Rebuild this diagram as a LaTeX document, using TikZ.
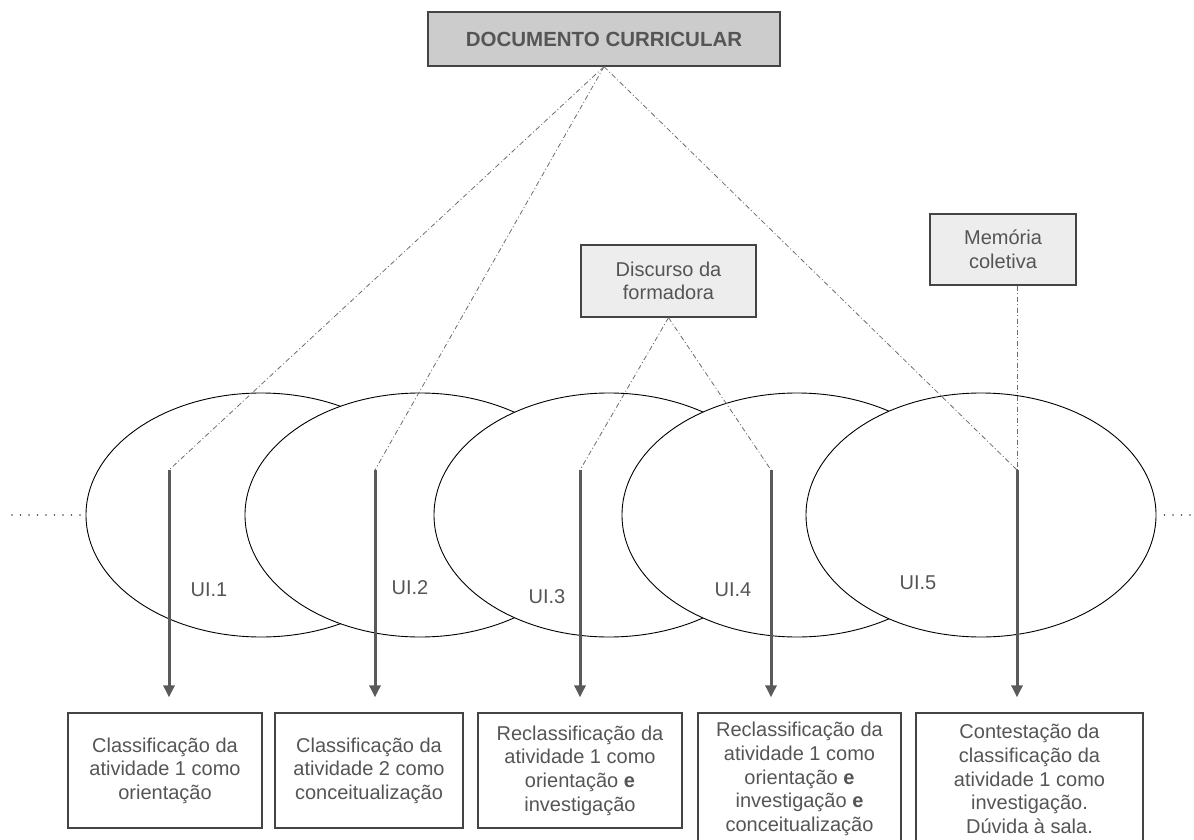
\documentclass[tikz,border=0pt]{standalone}
\usepackage{fontspec}
\setmainfont{Liberation Sans}
\usetikzlibrary{shapes.geometric,arrows.meta}
\definecolor{txt}{HTML}{555555}
\definecolor{boxline}{HTML}{444444}
\definecolor{dashc}{HTML}{6E6E6E}
\definecolor{arrc}{HTML}{5A5A5A}
\begin{document}
\begin{tikzpicture}[x=1pt,y=-1pt,
  every node/.style={font=\fontsize{20}{23.6}\selectfont, text=txt},
  uiell/.style={ellipse, draw=black, line width=0.9pt, fill=white, minimum width=350, minimum height=244, inner sep=0pt},
  outbox/.style={rectangle, draw=boxline, line width=1.3pt, fill=white, align=center, inner sep=0pt},
  topbox/.style={rectangle, draw=boxline, line width=1.3pt, align=center, inner sep=0pt},
  dashln/.style={draw=dashc, line width=0.8pt, dash pattern=on 5pt off 2.5pt on 1pt off 2.5pt},
  dotln/.style={draw=black!75, line width=1.6pt, line cap=round, dash pattern=on 0pt off 8.5pt},
  arrln/.style={draw=arrc, line width=3pt, -{Triangle[length=12pt,width=11pt]}, shorten >=15pt},
  uilab/.style={text=txt}
]
\useasboundingbox (0,0) rectangle (1194,840);
% ellipses
\node[uiell] (e1) at (261,515) {};
\node[uiell] (e2) at (420,515) {};
\node[uiell] (e3) at (609,515) {};
\node[uiell] (e4) at (797,515) {};
\node[uiell] (e5) at (981,515) {};
% dotted continuations
\coordinate (dl) at (12,515);
\coordinate (dr) at (1194,515);
\draw[dotln] (dl) -- (e1.west);
\draw[dotln] ([xshift=8pt]e5.east) -- (dr);
% labels
\node[uilab] (u1) at (209,590) {UI.1};
\node[uilab] (u2) at (410,588) {UI.2};
\node[uilab] (u3) at (547,597) {UI.3};
\node[uilab] (u4) at (733,590) {UI.4};
\node[uilab] (u5) at (918,583) {UI.5};
% top boxes
\node[topbox, fill=black!20, minimum width=352, minimum height=54, font=\bfseries\fontsize{20.5}{24}\selectfont] (doc) at (604,39) {DOCUMENTO CURRICULAR};
\node[topbox, fill=black!7, minimum width=175, minimum height=72] (disc) at (668.5,281) {Discurso da\\formadora};
\node[topbox, fill=black!7, minimum width=146, minimum height=71] (mem) at (1003,249.5) {Memória\\coletiva};
% arrow tops
\coordinate (t1) at (169,470);
\coordinate (t2) at (375,470);
\coordinate (t3) at (580,470);
\coordinate (t4) at (771,470);
\coordinate (t5) at (1017,470);
% bottom boxes
\node[outbox, minimum width=194, minimum height=115] (b1) at (165,770.5) {Classificação da\\atividade 1 como\\orientação};
\node[outbox, minimum width=188, minimum height=115] (b2) at (369,770.5) {Classificação da\\atividade 2 como\\conceitualização};
\node[outbox, minimum width=204, minimum height=115] (b3) at (580,770.5) {Reclassificação da\\atividade 1 como\\orientação \textbf{e}\\investigação};
\node[outbox, minimum width=203, minimum height=132] (b4) at (799.5,779) {Reclassificação da\\atividade 1 como\\orientação \textbf{e}\\investigação \textbf{e}\\conceitualização};
\node[outbox, minimum width=227, minimum height=132] (b5) at (1029.5,779) {Contestação da\\classificação da\\atividade 1 como\\investigação.\\Dúvida à sala.};
% dash-dot links
\draw[dashln] (doc.south) -- (t1);
\draw[dashln] (doc.south) -- (t2);
\draw[dashln] (doc.south) -- (t5);
\draw[dashln] (disc.south) -- (t3);
\draw[dashln] (disc.south) -- (t4);
\draw[dashln] ([xshift=14pt]mem.south) -- (t5);
% arrows
\draw[arrln] (t1) -- (t1 |- b1.north);
\draw[arrln] (t2) -- (t2 |- b2.north);
\draw[arrln] (t3) -- (t3 |- b3.north);
\draw[arrln] (t4) -- (t4 |- b4.north);
\draw[arrln] (t5) -- (t5 |- b5.north);
\end{tikzpicture}
\end{document}
